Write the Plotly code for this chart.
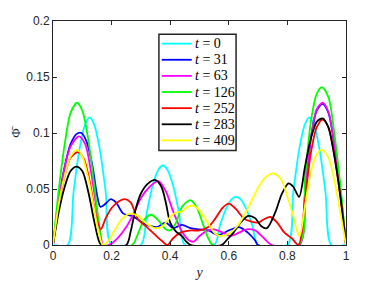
import plotly.graph_objects as go

# ---- data ----
labels = ["0", "31", "63", "126", "252", "283", "409"]
colors = ["#00FFFF", "#0000FF", "#FF00FF", "#00FF00", "#FF0000", "#000000", "#FFFF00"]

x_t0 = [0, 0.05, 0.07, 0.09, 0.11, 0.125, 0.14, 0.16, 0.18, 0.20, 0.30, 0.32, 0.34, 0.36, 0.375, 0.39, 0.41, 0.43, 0.45,
        0.55, 0.57, 0.59, 0.61, 0.625, 0.64, 0.66, 0.68, 0.70, 0.80, 0.82, 0.84, 0.86, 0.875, 0.89, 0.91, 0.93, 0.95, 1.0]
y_t0 = [0, 0, 0.047, 0.085, 0.108, 0.114, 0.108, 0.085, 0.047, 0, 0, 0.029, 0.053, 0.0675, 0.071, 0.0675, 0.053, 0.029, 0,
        0, 0.0177, 0.032, 0.041, 0.043, 0.041, 0.032, 0.0177, 0, 0, 0.047, 0.085, 0.108, 0.114, 0.108, 0.085, 0.047, 0, 0]

x_t31 = [0, 0.02, 0.04, 0.06, 0.08, 0.097, 0.115, 0.135, 0.15, 0.162, 0.18, 0.197, 0.215, 0.24, 0.27, 0.30, 0.33, 0.355,
         0.385, 0.41, 0.44, 0.47, 0.50, 0.53, 0.565, 0.60, 0.635, 0.665, 0.69, 0.70, 0.84, 0.86, 0.88, 0.90, 0.92, 0.94,
         0.96, 0.98, 1.0]
y_t31 = [0, 0.04, 0.07, 0.09, 0.099, 0.100, 0.092, 0.07, 0.045, 0.034, 0.037, 0.041, 0.038, 0.028, 0.026, 0.021, 0.017,
         0.016, 0.020, 0.015, 0.018, 0.015, 0.014, 0.013, 0.009, 0.013, 0.016, 0.011, 0.004, 0, 0, 0.045, 0.095, 0.12,
         0.126, 0.118, 0.09, 0.05, 0]

x_t63 = [0, 0.02, 0.04, 0.06, 0.088, 0.11, 0.13, 0.15, 0.165, 0.17, 0.19, 0.22, 0.25, 0.275, 0.30, 0.33, 0.36, 0.385,
         0.41, 0.44, 0.465, 0.48, 0.50, 0.53, 0.55, 0.58, 0.605, 0.635, 0.66, 0.69, 0.72, 0.747, 0.84, 0.86, 0.88, 0.90,
         0.92, 0.94, 0.96, 0.98, 1.0]
y_t63 = [0, 0.04, 0.07, 0.088, 0.097, 0.09, 0.065, 0.03, 0.005, 0, 0, 0.006, 0.016, 0.028, 0.042, 0.052, 0.057, 0.048,
         0.03, 0.012, 0.004, 0.003, 0.008, 0.013, 0.014, 0.011, 0.008, 0.011, 0.014, 0.013, 0.006, 0, 0, 0.045, 0.095,
         0.121, 0.127, 0.119, 0.09, 0.05, 0]

x_t126 = [0, 0.02, 0.04, 0.06, 0.082, 0.10, 0.12, 0.14, 0.16, 0.168, 0.27, 0.29, 0.31, 0.335, 0.36, 0.385, 0.40, 0.42,
          0.44, 0.468, 0.49, 0.51, 0.53, 0.545, 0.838, 0.86, 0.88, 0.90, 0.918, 0.94, 0.96, 0.98, 1.0]
y_t126 = [0, 0.05, 0.09, 0.118, 0.127, 0.12, 0.095, 0.055, 0.012, 0, 0, 0.01, 0.022, 0.027, 0.022, 0.014, 0.013, 0.02,
          0.034, 0.040, 0.034, 0.02, 0.006, 0, 0, 0.06, 0.11, 0.135, 0.141, 0.132, 0.1, 0.055, 0]

x_t252 = [0, 0.02, 0.04, 0.06, 0.085, 0.105, 0.125, 0.145, 0.163, 0.18, 0.20, 0.225, 0.245, 0.265, 0.29, 0.32, 0.345,
          0.37, 0.39, 0.41, 0.435, 0.47, 0.50, 0.53, 0.555, 0.578, 0.60, 0.625, 0.65, 0.675, 0.70, 0.72, 0.742, 0.765,
          0.79, 0.815, 0.838, 0.86, 0.88, 0.90, 0.92, 0.94, 0.96, 0.98, 1.0]
y_t252 = [0, 0.035, 0.062, 0.078, 0.083, 0.077, 0.057, 0.028, 0.014, 0.024, 0.033, 0.039, 0.041, 0.038, 0.023, 0.016,
          0.01, 0.004, 0, 0.006, 0.011, 0.013, 0.013, 0.016, 0.024, 0.033, 0.037, 0.032, 0.024, 0.021, 0.020, 0.023,
          0.025, 0.020, 0.011, 0.006, 0, 0.04, 0.082, 0.105, 0.112, 0.105, 0.08, 0.045, 0]

x_t283 = [0, 0.02, 0.04, 0.06, 0.08, 0.10, 0.12, 0.14, 0.155, 0.165, 0.25, 0.265, 0.28, 0.30, 0.325, 0.35, 0.37, 0.385,
          0.40, 0.42, 0.44, 0.455, 0.47, 0.575, 0.595, 0.616, 0.64, 0.667, 0.69, 0.71, 0.73, 0.76, 0.78, 0.804, 0.82,
          0.84, 0.86, 0.88, 0.90, 0.92, 0.94, 0.96, 0.98, 1.0]
y_t283 = [0, 0.03, 0.052, 0.066, 0.070, 0.066, 0.048, 0.022, 0.005, 0, 0, 0.012, 0.03, 0.046, 0.055, 0.058, 0.052,
          0.038, 0.02, 0.012, 0.008, 0.003, 0, 0, 0.005, 0.011, 0.02, 0.026, 0.024, 0.017, 0.015, 0.03, 0.045, 0.055,
          0.052, 0.043, 0.07, 0.095, 0.11, 0.113, 0.105, 0.08, 0.045, 0]

x_t409 = [0, 0.02, 0.04, 0.06, 0.082, 0.10, 0.12, 0.14, 0.155, 0.17, 0.19, 0.21, 0.235, 0.262, 0.29, 0.32, 0.35, 0.375,
          0.40, 0.42, 0.44, 0.46, 0.48, 0.50, 0.53, 0.555, 0.575, 0.60, 0.63, 0.66, 0.69, 0.72, 0.752, 0.78, 0.80, 0.82,
          0.835, 0.842, 0.86, 0.88, 0.90, 0.918, 0.94, 0.96, 0.98, 1.0]
y_t409 = [0, 0.037, 0.062, 0.079, 0.085, 0.079, 0.06, 0.033, 0.012, 0, 0.004, 0.013, 0.023, 0.028, 0.026, 0.019, 0.015,
          0.017, 0.025, 0.029, 0.030, 0.034, 0.035, 0.031, 0.019, 0.01, 0.008, 0.01, 0.017, 0.03, 0.046, 0.059, 0.064,
          0.058, 0.043, 0.026, 0.011, 0.008, 0.035, 0.065, 0.081, 0.085, 0.078, 0.058, 0.03, 0]

xs = [x_t0, x_t31, x_t63, x_t126, x_t252, x_t283, x_t409]
ys = [y_t0, y_t31, y_t63, y_t126, y_t252, y_t283, y_t409]

x_ticks = [0, 0.2, 0.4, 0.6, 0.8, 1]
x_ticklabels = ["0", "0.2", "0.4", "0.6", "0.8", "1"]
y_ticks = [0, 0.05, 0.1, 0.15, 0.2]
y_ticklabels = ["0", "0.05", "0.1", "0.15", "0.2"]

fig = go.Figure()
for lab, col, x, y in zip(labels, colors, xs, ys):
    fig.add_trace(go.Scatter(
        x=x, y=y, mode="lines", name=f"t = {lab}", showlegend=False,
        line=dict(color=col, width=1.8, shape="spline", smoothing=0.8),
    ))

# ---- legend drawn as a box in the axes' paper coordinates ----
axcol = "#262626"
PW, PH = 292.4, 223.6  # plot area size in px
box_x0, box_x1 = 105.7 / PW, 182.7 / PW
box_y1, box_y0 = 210.3 / PH, 94.3 / PH
shapes = [dict(type="rect", xref="paper", yref="paper", x0=box_x0, x1=box_x1, y0=box_y0, y1=box_y1,
               fillcolor="white", line=dict(color=axcol, width=1.5), layer="above")]
annotations = []
for i, (lab, col) in enumerate(zip(labels, colors)):
    yc = (210.3 - 9.3 - 16.1 * i) / PH
    shapes.append(dict(type="line", xref="paper", yref="paper", x0=108.5 / PW, x1=138.5 / PW, y0=yc, y1=yc,
                       line=dict(color=col, width=1.8), layer="above"))
    annotations.append(dict(xref="paper", yref="paper", x=139.5 / PW, y=yc, xanchor="left", yanchor="middle",
                            showarrow=False, text=f"<i>t</i> = {lab}",
                            font=dict(family="Liberation Serif, serif", size=14, color="#000000")))

fig.update_layout(
    width=374, height=278,
    margin=dict(l=45.3, r=36.3, t=12.7, b=41.4),
    paper_bgcolor="white", plot_bgcolor="white",
    font=dict(family="Liberation Sans, Arial, sans-serif", size=12, color=axcol),
    showlegend=False, shapes=shapes, annotations=annotations,
)
fig.update_xaxes(
    range=[0, 1], tickvals=x_ticks, ticktext=x_ticklabels, automargin=False,
    showline=True, linecolor=axcol, linewidth=1, mirror="ticks",
    ticks="inside", ticklen=4, tickcolor=axcol, showgrid=False, zeroline=False,
    title=dict(text="<i>y</i>", font=dict(family="Liberation Serif, serif", size=14, color=axcol), standoff=4),
)
fig.update_yaxes(
    range=[0, 0.2], tickvals=y_ticks, ticktext=y_ticklabels, automargin=False,
    showline=True, linecolor=axcol, linewidth=1, mirror="ticks",
    ticks="inside", ticklen=4, tickcolor=axcol, showgrid=False, zeroline=False,
    title=dict(text="Φ\u0304", font=dict(family="Liberation Serif, serif", size=13, color=axcol), standoff=6),
)

fig.write_html("out.html")
